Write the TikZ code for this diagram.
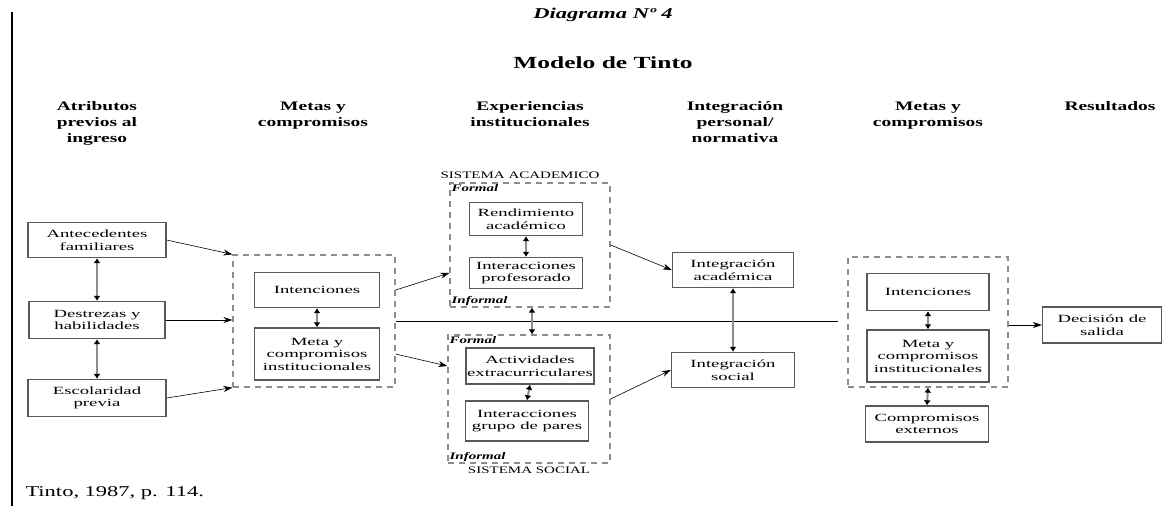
\documentclass[tikz,border=0pt]{standalone}
\usepackage{fontspec}
\setmainfont[FakeStretch=1.5]{Liberation Serif}
\newfontfamily\boxfont[FakeStretch=1.7]{Liberation Serif}
\usetikzlibrary{arrows.meta}

\begin{document}
\begin{tikzpicture}[x=1pt,y=-1pt,
    box/.style={draw=black!65,line width=1.4pt,fill=white,align=center,inner sep=1pt,font=\boxfont\fontsize{11}{12.5}\selectfont},
    group/.style={draw=black!45,line width=1.2pt,dash pattern=on 6pt off 5pt},
    link/.style={-{Stealth[length=9pt,width=6pt]},line width=0.6pt},
    twoway/.style={{Latex[length=5pt,width=7pt,black]}-{Latex[length=5pt,width=7pt,black]},draw=black!45,line width=2pt},
    head/.style={font=\fontsize{13}{16}\selectfont\bfseries,align=center,anchor=north},
    tag/.style={font=\fontsize{10}{10}\selectfont\bfseries\itshape,inner sep=2pt}]

    \useasboundingbox (0,0) rectangle (1165,506);

    % Left margin bar
    \draw[line width=2.5pt] (12,12) -- (12,506);

    % Titles
    \node[font=\fontsize{15}{15}\selectfont\bfseries\itshape] (diag) at (603,15) {Diagrama Nº 4};
    \node[font=\fontsize{17}{17}\selectfont\bfseries] (model) at (603,63) {Modelo de Tinto};

    % Column headers
    \node[head] (h1) at (97,98) {Atributos\\previos al\\ingreso};
    \node[head] (h2) at (313,98) {Metas y\\compromisos};
    \node[head] (h3) at (530,98) {Experiencias\\institucionales};
    \node[head] (h4) at (735,98) {Integración\\personal/\\normativa};
    \node[head] (h5) at (928,98) {Metas y\\compromisos};
    \node[head] (h6) at (1110,98) {Resultados};

    % Dashed groups
    \node[group,minimum width=162,minimum height=132] (grpL) at (314,321) {};
    \node[group,minimum width=160,minimum height=124] (grpA) at (530,245) {};
    \node[group,minimum width=162,minimum height=128] (grpS) at (529,399) {};
    \node[group,minimum width=160,minimum height=130] (grpR) at (928,322) {};

    % Previous attributes
    \node[box,minimum width=138,minimum height=35] (antec) at (97,240) {Antecedentes\\familiares};
    \node[box,minimum width=136,minimum height=37] (destr) at (97,320) {Destrezas y\\habilidades};
    \node[box,minimum width=138,minimum height=37] (escol) at (97,398) {Escolaridad\\previa};

    % Goals and commitments (first)
    \node[box,minimum width=125,minimum height=35] (intL) at (317,290) {Intenciones};
    \node[box,minimum width=125,minimum height=52] (metaL) at (317,354) {Meta y\\compromisos\\institucionales};

    % Academic system
    \node[font=\fontsize{10}{10}\selectfont,anchor=south] (sisA) at ([xshift=-10pt]grpA.north) {SISTEMA ACADEMICO};
    \node[tag,anchor=north west] (formA) at (grpA.north west) {Formal};
    \node[tag,anchor=south west] (infA) at (grpA.south west) {Informal};
    \node[box,minimum width=113,minimum height=33] (rend) at (526,219) {Rendimiento\\académico};
    \node[box,minimum width=113,minimum height=31] (intP) at (526,273) {Interacciones\\profesorado};

    % Social system
    \node[font=\fontsize{10}{10}\selectfont,anchor=north] (sisS) at (grpS.south) {SISTEMA SOCIAL};
    \node[tag,anchor=north west] (formS) at (grpS.north west) {Formal};
    \node[tag,anchor=south west] (infS) at (grpS.south west) {Informal};
    \node[box,minimum width=124,minimum height=36] (activ) at (530,366) {Actividades\\extracurriculares};
    \node[box,minimum width=123,minimum height=40] (intG) at (527,421) {Interacciones\\grupo de pares};

    % Integration
    \node[box,minimum width=121,minimum height=35] (integA) at (733,270) {Integración\\académica};
    \node[box,minimum width=123,minimum height=35] (integS) at (733,370) {Integración\\social};

    % Goals and commitments (second)
    \node[box,minimum width=122,minimum height=37] (intR) at (928,292) {Intenciones};
    \node[box,minimum width=122,minimum height=52] (metaR) at (928,356) {Meta y\\compromisos\\institucionales};
    \node[box,minimum width=123,minimum height=36] (compE) at (927,424) {Compromisos\\externos};

    % Outcome
    \node[box,minimum width=119,minimum height=36] (decis) at (1102,325) {Decisión de\\salida};

    % Source
    \node[font=\fontsize{15}{15}\selectfont,anchor=west] (src) at (22,493) {Tinto, 1987, p. 114.};

    % Horizontal divider
    \coordinate (lineEnd) at (838,321);
    \draw[line width=0.5pt] (grpL.east) -- (lineEnd);

    % One-way arrows
    \draw[link] (antec.east) -- (grpL.north west);
    \draw[link] (destr.east) -- (grpL.west |- destr.east);
    \draw[link] (escol.east) -- (grpL.south west);
    \draw[link] (grpL.east |- intL.east) -- (grpA.west |- intP.west);
    \draw[link] (grpL.east |- metaL.east) -- (grpS.west |- activ.west);
    \draw[link] (grpA.east) -- (integA.west);
    \draw[link] (grpS.east) -- (integS.west);
    \draw[link] (grpR.east |- decis.west) -- (decis.west);

    % Two-way arrows
    \draw[twoway] (antec.south) -- (destr.north);
    \draw[twoway] (destr.south) -- (escol.north);
    \draw[twoway] (intL.south) -- (metaL.north);
    \draw[twoway] (rend.south) -- (intP.north);
    \draw[twoway] (activ.south) -- (intG.north);
    \draw[twoway] ([xshift=2pt]grpA.south) -- ([xshift=3pt]grpS.north);
    \draw[twoway] (integA.south) -- (integS.north);
    \draw[twoway] (intR.south) -- (metaR.north);
    \draw[twoway] (grpR.south) -- (compE.north);

\end{tikzpicture}
\end{document}
